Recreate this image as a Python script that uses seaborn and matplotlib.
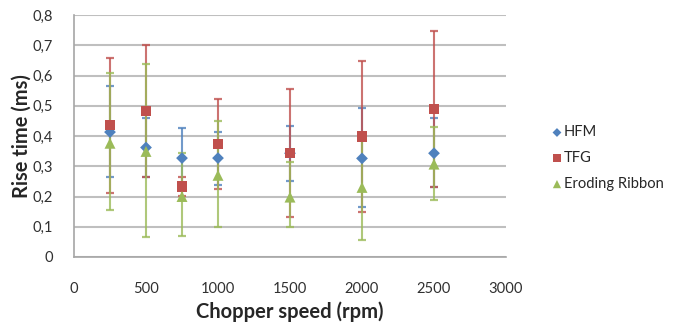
import matplotlib
matplotlib.use("Agg")
import matplotlib.pyplot as plt
import seaborn as sns
import pandas as pd

speeds = [250, 500, 750, 1000, 1500, 2000, 2500]
hfm = [0.413, 0.362, 0.327, 0.327, 0.343, 0.326, 0.343]
hfm_lo = [0.263, 0.263, 0.227, 0.239, 0.250, 0.165, 0.233]
hfm_hi = [0.566, 0.459, 0.426, 0.412, 0.434, 0.492, 0.459]
tfg = [0.437, 0.483, 0.233, 0.374, 0.343, 0.398, 0.489]
tfg_lo = [0.213, 0.263, 0.203, 0.224, 0.132, 0.150, 0.233]
tfg_hi = [0.657, 0.700, 0.263, 0.523, 0.556, 0.648, 0.746]
er = [0.376, 0.349, 0.200, 0.270, 0.198, 0.230, 0.307]
er_lo = [0.154, 0.066, 0.070, 0.098, 0.098, 0.057, 0.190]
er_hi = [0.607, 0.638, 0.343, 0.451, 0.314, 0.400, 0.429]
series = ["HFM", "TFG", "Eroding Ribbon"]
yticks = [0, 0.1, 0.2, 0.3, 0.4, 0.5, 0.6, 0.7, 0.8]
ytick_labels = ["0", "0,1", "0,2", "0,3", "0,4", "0,5", "0,6", "0,7", "0,8"]
xticks = [0, 500, 1000, 1500, 2000, 2500, 3000]

colors = {"HFM": "#4F81BD", "TFG": "#C0504D", "Eroding Ribbon": "#9BBB59"}
markers = {"HFM": "D", "TFG": "s", "Eroding Ribbon": "^"}
sizes = {"HFM": 36, "TFG": 55, "Eroding Ribbon": 62}

rows = []
for name, v, lo, hi in [("HFM", hfm, hfm_lo, hfm_hi), ("TFG", tfg, tfg_lo, tfg_hi),
                        ("Eroding Ribbon", er, er_lo, er_hi)]:
    for s, a, b, c in zip(speeds, v, lo, hi):
        rows.append({"speed": s, "rise": a, "lo": b, "hi": c, "series": name})
df = pd.DataFrame(rows)

sns.set_style("white")
plt.rcParams["font.family"] = ["Lato", "DejaVu Sans"]

W, H = 676, 323
fig = plt.figure(figsize=(W / 100, H / 100), dpi=100)
L, R, T, B = 74, 506, 15, 257
ax = fig.add_axes([L / W, 1 - B / H, (R - L) / W, (B - T) / H])

for name in series:
    d = df[df.series == name]
    ax.errorbar(d.speed, d.rise, yerr=[d.rise - d.lo, d.hi - d.rise], fmt="none",
                ecolor=colors[name], elinewidth=1.5, capsize=3, capthick=1.6,
                alpha=0.8, zorder=3)

for name in series:
    d = df[df.series == name]
    sns.scatterplot(data=d, x="speed", y="rise", ax=ax, marker=markers[name],
                    color=colors[name], s=sizes[name], edgecolor="none",
                    label=name, zorder=4)

ax.set_xlim(0, 3000)
ax.set_ylim(0, 0.8)
ax.set_xticks(xticks)
ax.set_xticklabels([str(x) for x in xticks])
ax.set_yticks(yticks)
ax.set_yticklabels(ytick_labels)
ax.yaxis.grid(True, color="#BFBFBF", linewidth=1.5)
ax.set_axisbelow(True)
for sp in ["top", "right"]:
    ax.spines[sp].set_visible(False)
for sp in ["left", "bottom"]:
    ax.spines[sp].set_color("#A6A6A6")
    ax.spines[sp].set_linewidth(1.2)

renderer = fig.canvas.get_renderer()
def fit_size(s, target_w, weight="normal"):
    t = fig.text(0, 0, s, fontsize=10, fontweight=weight)
    w = t.get_window_extent(renderer).width
    t.remove()
    return 10 * target_w / w

tick_fs = fit_size("3000", 34)
lab_fs = fit_size("Chopper speed (rpm)", 188, "bold")
ylab_fs = fit_size("Rise time (ms)", 124, "bold")
leg_fs = fit_size("Eroding Ribbon", 100)

ax.tick_params(axis="x", direction="out", length=5, width=1.2, color="#A6A6A6",
               labelsize=tick_fs, labelcolor="#303030", pad=13)
ax.tick_params(axis="y", direction="out", length=5, width=1.2, color="#A6A6A6",
               labelsize=tick_fs, labelcolor="#303030", pad=10)
ax.set_xlabel("Chopper speed (rpm)", fontsize=lab_fs, fontweight="bold")
ax.set_ylabel("Rise time (ms)", fontsize=ylab_fs, fontweight="bold")
ax.xaxis.set_label_coords(0.5, (H - 301 - (H - B)) / (B - T))
ax.yaxis.set_label_coords((32 - L) / (R - L), 0.5)

ax.legend(loc="upper left", bbox_to_anchor=(540 / W, 1 - 118 / H),
          bbox_transform=fig.transFigure, frameon=False, fontsize=leg_fs,
          labelspacing=0.8, handletextpad=-0.2, markerscale=0.75,
          handlelength=1.3, borderpad=0)

fig.savefig("out.png", dpi=100)
